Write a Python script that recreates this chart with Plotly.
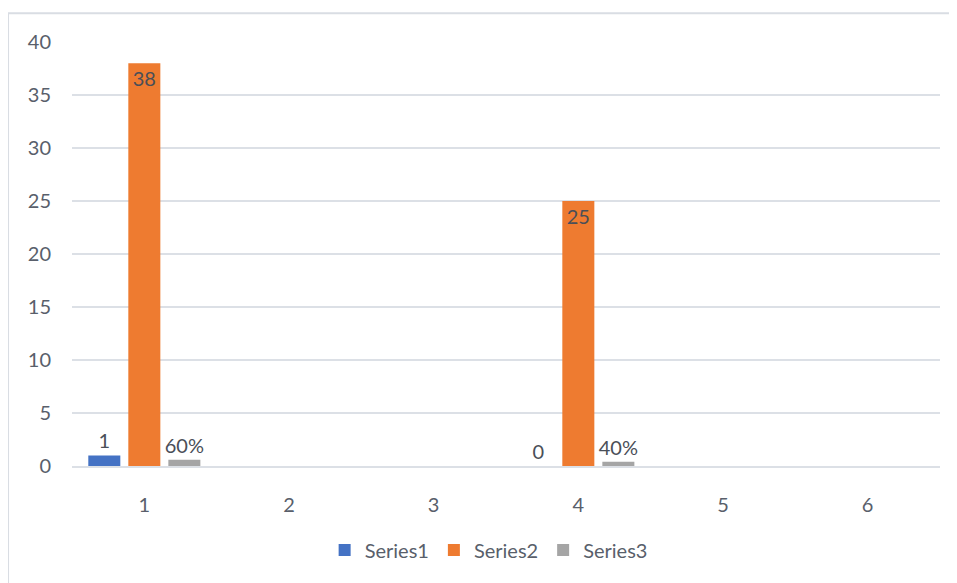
import plotly.graph_objects as go

categories = ["1", "2", "3", "4", "5", "6"]
series1 = [1, None, None, 0, None, None]
series2 = [38, None, None, 25, None, None]
series3 = [0.6, None, None, 0.4, None, None]
y_ticks = [0, 5, 10, 15, 20, 25, 30, 35, 40]

FONT = "Lato, Open Sans, sans-serif"
TXT = "#595f6b"
LBL = "#4a4f58"

fig = go.Figure()
fig.add_trace(go.Bar(
    name="Series1", x=categories, y=series1,
    marker=dict(color="#4472C4", line=dict(width=0)),
    texttemplate="%{y}", textposition="outside", constraintext="none",
    textfont=dict(size=20, color=LBL, family=FONT), cliponaxis=False,
))
fig.add_trace(go.Bar(
    name="Series2", x=categories, y=series2,
    marker=dict(color="#EE7B30", line=dict(width=0)),
    texttemplate="%{y}", textposition="inside", insidetextanchor="end",
    constraintext="none",
    insidetextfont=dict(size=20, color=LBL, family=FONT),
))
fig.add_trace(go.Bar(
    name="Series3", x=categories, y=series3,
    marker=dict(color="#A5A5A5", line=dict(width=0)),
    texttemplate="%{y:.0%}", textposition="outside", constraintext="none",
    textfont=dict(size=20, color=LBL, family=FONT), cliponaxis=False,
))

fig.update_layout(
    width=957, height=583,
    margin=dict(l=64, r=25, t=34, b=125),
    paper_bgcolor="white", plot_bgcolor="white",
    barmode="group", bargap=0.17, bargroupgap=0.2,
    font=dict(family=FONT, size=20, color=TXT),
    uniformtext=dict(mode=False),
    legend=dict(orientation="h", x=0.48, xanchor="center", y=-0.198, yanchor="middle",
                font=dict(size=20, color=TXT, family=FONT), itemwidth=30,
                traceorder="normal"),
    xaxis=dict(type="category", showgrid=False, showline=True, linecolor="#DCE0E6",
               linewidth=2, ticks="", ticklabelstandoff=20,
               tickfont=dict(size=20, color=TXT)),
    yaxis=dict(range=[0, 40], tickvals=y_ticks, showgrid=True, gridcolor="#DCE0E6",
               gridwidth=2, zeroline=False, showline=False, ticks="",
               ticklabelstandoff=20, tickfont=dict(size=20, color=TXT)),
    shapes=[dict(type="rect", xref="paper", yref="paper",
                 x0=-0.0737, x1=1.0184, y0=-0.4, y1=1.068,
                 line=dict(color="#D9DDE3", width=2), fillcolor="rgba(0,0,0,0)",
                 layer="below")],
)

fig.write_html("out.html")
